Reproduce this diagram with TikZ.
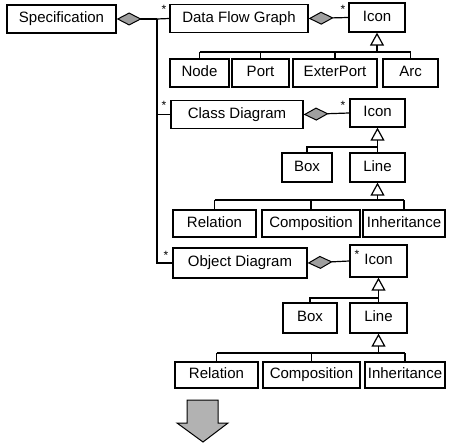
\documentclass[tikz,border=0pt]{standalone}
\usepackage{fontspec}
\setmainfont{Liberation Sans}
\usetikzlibrary{arrows.meta}
\tikzset{
  cls/.style={draw, line width=1.3pt, inner sep=0pt, minimum height=28pt,
    font=\fontsize{15}{18}\selectfont, text height=10.5pt, text depth=3pt},
  wire/.style={line width=1.2pt},
  comp/.style={wire, {Diamond[length=25pt,width=13pt,fill=gray!75!black!60,line width=1pt]}-},
  inh/.style={wire, -{Triangle[open,length=13pt,width=14pt,line width=1.2pt]}},
  mult/.style={inner sep=0pt, font=\fontsize{12}{12}\selectfont},
}
\begin{document}
\begin{tikzpicture}[x=1pt,y=-1pt]
\useasboundingbox (0,0) rectangle (449,443);

% aggregate root
\node[cls, minimum width=109pt] (spec) at (61.5,19) {Specification};
\node[cls, minimum width=138pt] (dfg) at (239,18.5) {Data Flow Graph};
\node[cls, minimum width=132pt] (cd)  at (237,114.5) {Class Diagram};
\node[cls, minimum width=134pt, minimum height=30pt] (od) at (240,263) {Object Diagram};

% trunk from the specification to its three diagrams
\coordinate (T) at (157,19);
\draw[comp] (spec.east) -- (T);
\draw[wire] (T) -- (dfg.west);
\draw[wire] (T) |- (od.west);
\draw[wire] (cd.west -| T) -- (cd.west);
\node[mult] (s1) at (164,9) {*};
\node[mult] (s2) at (164,105) {*};
\node[mult] (s3) at (166,255) {*};

% --- data flow graph ---
\node[cls, minimum width=56pt, minimum height=29pt] (icon1) at (377,17.5) {Icon};
\draw[comp] (dfg.east) -- (icon1.west);
\node[mult] (s4) at (343,9) {*};
\node[cls, minimum width=59pt] (node) at (199.5,73) {Node};
\node[cls, minimum width=57pt] (port) at (260.5,73) {Port};
\node[cls, minimum width=84pt] (ext)  at (335,73) {ExterPort};
\node[cls, minimum width=55pt] (arc)  at (410.5,73) {Arc};
\coordinate (b1) at (0,52);
\draw[wire] (node.north |- b1) -- (arc.north |- b1);
\foreach \n in {node,port,ext,arc} \draw[wire] (\n.north) -- (\n.north |- b1);
\draw[inh] (icon1.south |- b1) -- (icon1.south);

% --- class diagram ---
\node[cls, minimum width=55pt] (icon2) at (377.5,113) {Icon};
\draw[comp] (cd.east) -- (icon2.west);
\node[mult] (s5) at (343,105) {*};
\node[cls, minimum width=50pt, minimum height=29pt] (box2) at (307,167.5) {Box};
\node[cls, minimum width=55pt, minimum height=29pt] (line2) at (377.5,167.5) {Line};
\coordinate (b2) at (0,147);
\draw[inh] (line2.north) -- (icon2.south);
\draw[wire] (box2.north) |- (line2.north |- b2);
\node[cls, minimum width=83pt, minimum height=27pt] (rel2)  at (214.5,223.5) {Relation};
\node[cls, minimum width=98pt, minimum height=27pt] (comp2) at (311,223.5) {Composition};
\node[cls, minimum width=82pt, minimum height=27pt] (inh2)  at (404,223.5) {Inheritance};
\coordinate (b3) at (0,200);
\draw[wire] (rel2.north |- b3) -- (inh2.north |- b3);
\foreach \n in {rel2,comp2,inh2} \draw[wire] (\n.north) -- (\n.north |- b3);
\draw[inh] (line2.south |- b3) -- (line2.south);

% --- object diagram ---
\node[cls, minimum width=57pt, minimum height=32pt] (icon3) at (378.5,261) {Icon};
\draw[comp] (od.east) -- (icon3.west);
\node[mult] (s6) at (357,254) {*};
\node[cls, minimum width=54pt, minimum height=30pt] (box3) at (310,318) {Box};
\node[cls, minimum width=57pt, minimum height=30pt] (line3) at (378.5,318) {Line};
\coordinate (b4) at (0,298);
\draw[inh] (line3.north) -- (icon3.south);
\draw[wire] (box3.north) |- (line3.north |- b4);
\node[cls, minimum width=83pt, minimum height=26pt] (rel3)  at (216.5,375) {Relation};
\node[cls, minimum width=97pt, minimum height=26pt] (comp3) at (311.5,375) {Composition};
\node[cls, minimum width=80pt, minimum height=26pt] (inh3)  at (405,375) {Inheritance};
\coordinate (b5) at (0,353);
\draw[wire] (rel3.north |- b5) -- (inh3.north |- b5);
\foreach \n in {rel3,comp3,inh3} \draw[wire] (\n.north) -- (\n.north |- b5);
\draw[inh] (line3.south |- b5) -- (line3.south);

% shaded block arrow pointing down
\draw[line width=1pt, fill=gray!60]
  (187,400) -- (218,400) -- (218,423) -- (228,423) -- (203,442)
  -- (177,423) -- (187,423) -- cycle;
\end{tikzpicture}
\end{document}
